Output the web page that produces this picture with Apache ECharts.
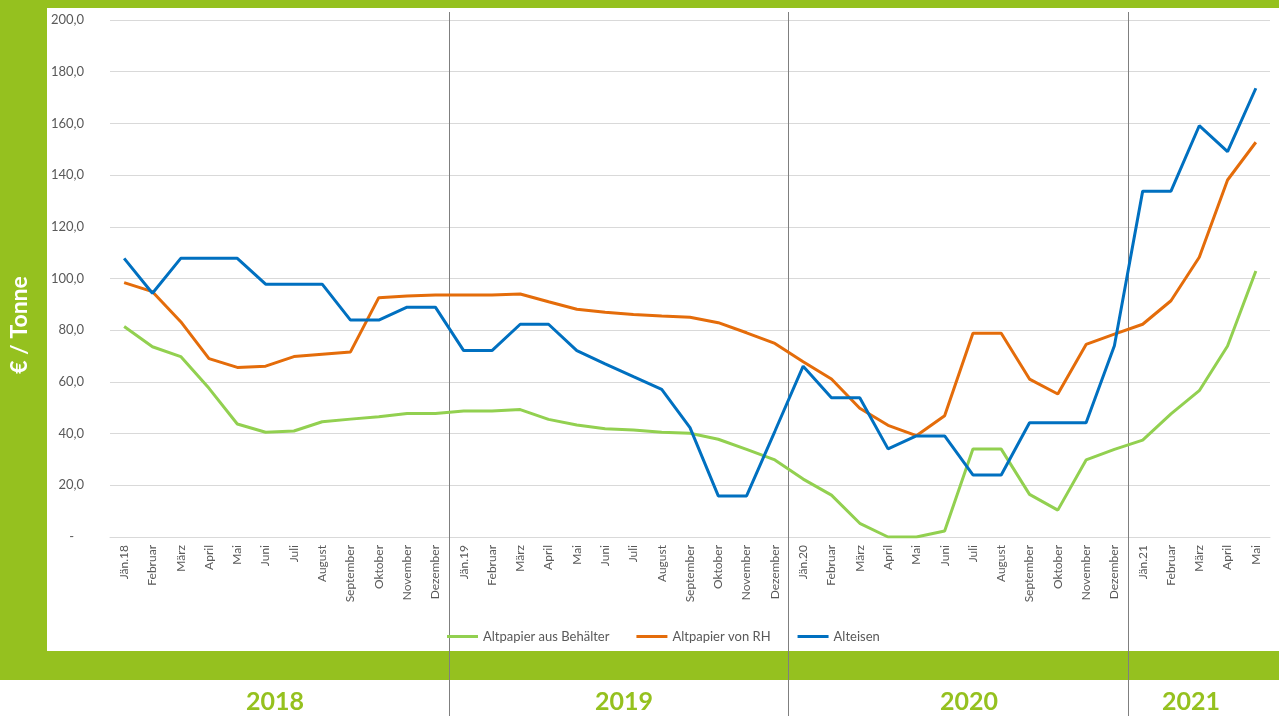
<!DOCTYPE html>
<html>
<head>
<meta charset="utf-8">
<script src="https://cdn.jsdelivr.net/npm/echarts@6/dist/echarts.min.js"></script>
<style>
    html, body { margin: 0; padding: 0; background: #fff; }
    #chart { width: 1279px; height: 716px; }
</style>
</head>
<body>
<div id="chart"></div>
<script>
    // Monatsnamen (x-Achse)
    const months = [
        'Jän.18', 'Februar', 'März', 'April', 'Mai', 'Juni', 'Juli', 'August', 'September', 'Oktober', 'November', 'Dezember',
        'Jän.19', 'Februar', 'März', 'April', 'Mai', 'Juni', 'Juli', 'August', 'September', 'Oktober', 'November', 'Dezember',
        'Jän.20', 'Februar', 'März', 'April', 'Mai', 'Juni', 'Juli', 'August', 'September', 'Oktober', 'November', 'Dezember',
        'Jän.21', 'Februar', 'März', 'April', 'Mai'
    ];
    const years = ['2018', '2019', '2020', '2021'];

    const altpapierBehaelter = [
        81.4, 73.6, 69.8, 57.5, 43.7, 40.5, 41.0, 44.6, 45.6, 46.5, 47.8, 47.8,
        48.7, 48.7, 49.3, 45.5, 43.3, 41.9, 41.4, 40.5, 40.1, 37.8, 33.9, 29.8,
        22.4, 16.2, 5.3, 0, 0, 2.3, 34.0, 34.0, 16.5, 10.4, 29.8, 33.9,
        37.5, 47.6, 56.6, 73.9, 102.9
    ];
    const altpapierRH = [
        98.4, 94.9, 83.3, 69.0, 65.6, 66.1, 69.8, 70.7, 71.6, 92.6, 93.2, 93.6,
        93.6, 93.6, 94.0, 91.0, 88.1, 86.9, 86.1, 85.5, 85.0, 82.9, 79.0, 74.9,
        67.8, 61.1, 49.8, 43.2, 39.2, 46.9, 78.8, 78.8, 61.1, 55.3, 74.5, 78.5,
        82.3, 91.4, 108.2, 138.1, 152.7
    ];
    const alteisen = [
        107.8, 94.3, 107.8, 107.8, 107.8, 97.8, 97.8, 97.8, 83.9, 83.9, 88.9, 88.9,
        72.1, 72.1, 82.3, 82.3, 72.1, 67.0, 62.0, 57.1, 42.3, 15.9, 15.9, 40.9,
        66.1, 53.9, 53.9, 34.1, 39.1, 39.1, 24.0, 24.0, 44.2, 44.2, 44.2, 74.0,
        133.8, 133.8, 159.1, 149.1, 173.6
    ];

    const green = '#95c11f';
    const fontFam = 'Lato, "Noto Sans", sans-serif';

    let myChart = echarts.init(document.getElementById('chart'));

    let option = {
        backgroundColor: '#fff',
        animation: false,
        textStyle: { fontFamily: fontFam },
        grid: { left: 110, right: 9, top: 20, bottom: 179 },
        legend: {
            left: 442,
            top: 625,
            itemWidth: 31,
            itemHeight: 3,
            itemGap: 27,
            icon: 'rect',
            textStyle: { color: '#595959', fontSize: 13, fontFamily: fontFam },
            data: ['Altpapier aus Behälter', 'Altpapier von RH', 'Alteisen']
        },
        xAxis: {
            type: 'category',
            data: months,
            boundaryGap: true,
            axisLine: { lineStyle: { color: '#d9d9d9' } },
            axisTick: { length: 5, lineStyle: { color: '#d9d9d9' } },
            axisLabel: { rotate: 90, interval: 0, color: '#595959', fontSize: 12, margin: 8 }
        },
        yAxis: {
            type: 'value',
            min: 0,
            max: 200,
            interval: 20,
            axisLine: { show: false },
            axisTick: { show: false },
            splitLine: { lineStyle: { color: '#d9d9d9', width: 1 } },
            axisLabel: {
                color: '#595959',
                fontSize: 13,
                margin: 26,
                formatter: v => v === 0 ? '-   ' : v.toFixed(1).replace('.', ',')
            }
        },
        series: [
            { name: 'Altpapier aus Behälter', type: 'line', data: altpapierBehaelter, showSymbol: false,
              itemStyle: { color: '#92d050' }, lineStyle: { color: '#92d050', width: 3 } },
            { name: 'Altpapier von RH', type: 'line', data: altpapierRH, showSymbol: false,
              itemStyle: { color: '#e46c0a' }, lineStyle: { color: '#e46c0a', width: 3 } },
            { name: 'Alteisen', type: 'line', data: alteisen, showSymbol: false,
              itemStyle: { color: '#0070c0' }, lineStyle: { color: '#0070c0', width: 3 } }
        ]
    };
    myChart.setOption(option);

    // Rahmen, Jahrestrenner und Jahresbeschriftung
    const px = i => myChart.convertToPixel({ xAxisIndex: 0 }, i);
    const bounds = [12, 24, 36].map(i => (px(i - 1) + px(i)) / 2);
    const yearX = [275, 624, 969, 1191];

    let graphic = [
        { type: 'rect', shape: { x: 0, y: 0, width: 1279, height: 8 }, style: { fill: green }, z: 0 },
        { type: 'rect', shape: { x: 0, y: 0, width: 47, height: 680 }, style: { fill: green }, z: 0 },
        { type: 'rect', shape: { x: 0, y: 651, width: 1279, height: 29 }, style: { fill: green }, z: 0 },
        {
            type: 'text', x: 20, y: 325, rotation: Math.PI / 2,
            style: { text: '€ / Tonne', fill: '#fff', font: 'bold 23px ' + fontFam, align: 'center', verticalAlign: 'middle' }
        }
    ];
    bounds.forEach(b => {
        graphic.push({
            type: 'line', shape: { x1: Math.round(b) - 0.5, y1: 12, x2: Math.round(b) - 0.5, y2: 716 },
            style: { stroke: '#7f7f7f', lineWidth: 1 }, z: 1
        });
    });
    years.forEach((y, k) => {
        graphic.push({
            type: 'text', x: yearX[k], y: 702,
            style: { text: y, fill: green, font: 'bold 25px ' + fontFam, align: 'center', verticalAlign: 'middle' }
        });
    });
    myChart.setOption({ graphic: graphic });
</script>
</body>
</html>
